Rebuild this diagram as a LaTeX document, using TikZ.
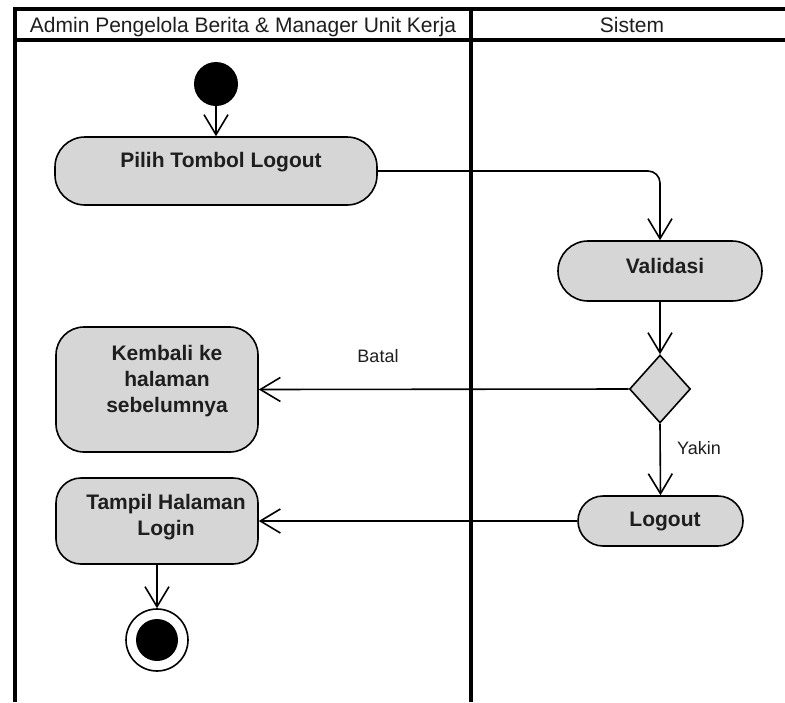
\documentclass[tikz,border=0pt]{standalone}
\usepackage{fontspec}
\setmainfont{Liberation Sans}
\usetikzlibrary{arrows.meta,shapes.geometric}
\definecolor{actfill}{RGB}{214,214,214}
\definecolor{ink}{RGB}{30,30,30}
\begin{document}
\begin{tikzpicture}[x=1pt,y=-1pt,
  lane/.style={line width=3.2pt},
  action/.style={draw, line width=1.6pt, fill=actfill, rounded corners=#1,
    inner sep=0pt, rectangle},
  action/.default=25pt,
  actlabel/.style={font=\fontsize{21}{26}\selectfont\bfseries, text=ink, align=center, inner sep=0pt},
  flow/.style={line width=1.6pt, -{Straight Barb[length=20pt,width=24pt]}},
  guard/.style={font=\fontsize{18}{21}\selectfont, text=ink, inner sep=0pt},
  head/.style={font=\fontsize{21}{24}\selectfont, text=ink, inner sep=0pt, anchor=base}]
  \useasboundingbox (0,0) rectangle (785,702);
  \fill[white] (0,0) rectangle (785,702);

  % swimlane frame
  \draw[lane] (15,702) -- (15,9) -- (785,9);
  \draw[lane] (15,40) -- (785,40);
  \draw[lane] (471,9) -- (471,702);
  \node[head] (laneA) at (243,32) {Admin Pengelola Berita \& Manager Unit Kerja};
  \node[head] (laneB) at (632,32) {Sistem};

  % start and end
  \node[circle, fill=black, minimum size=44pt, inner sep=0pt] (start) at (216,84) {};
  \node[circle, draw, line width=1.6pt, fill=white, minimum size=62pt, inner sep=0pt] (end) at (157,640) {};
  \node[circle, fill=black, minimum size=42pt, inner sep=0pt] (endin) at (157,640) {};

  % actions
  \node[action=30pt, minimum width=322pt, minimum height=68pt] (pilih) at (216,171) {};
  \node[actlabel] (pilihT) at (221,162.5) {Pilih Tombol Logout};
  \node[action=30pt, minimum width=204pt, minimum height=60pt] (valid) at (660,271) {};
  \node[actlabel] (validT) at (665,266) {Validasi};
  \node[diamond, draw, line width=1.6pt, fill=actfill, minimum width=61pt,
    minimum height=68pt, inner sep=0pt] (dec) at (660,389) {};
  \node[action=28pt, minimum width=202pt, minimum height=125pt] (kembali) at (157,389.5) {};
  \node[actlabel] (kembaliT) at (167,381) {Kembali ke\\halaman\\sebelumnya};
  \node[action=25pt, minimum width=202pt, minimum height=86pt] (tampil) at (157,521) {};
  \node[actlabel] (tampilT) at (166,517) {Tampil Halaman\\Login};
  \node[action=25pt, minimum width=165pt, minimum height=50pt] (logout) at (660.5,521) {};
  \node[actlabel] (logoutT) at (665,521.5) {Logout};

  % control flow
  \draw[flow] (start.south) -- (pilih.north);
  \draw[flow, rounded corners=12pt] (pilih.east) -| (valid.north);
  \draw[flow] (valid.south) -- (dec.north);
  \draw[flow] (dec.west) -- (kembali.east);
  \draw[flow] (dec.south) -- (logout.north);
  \draw[flow] (logout.west) -- (tampil.east);
  \draw[flow] (tampil.south) -- (end.north);

  % guards
  \node[guard] (batal) at (378,356) {Batal};
  \node[guard, anchor=west] (yakin) at (677,448) {Yakin};
\end{tikzpicture}
\end{document}
